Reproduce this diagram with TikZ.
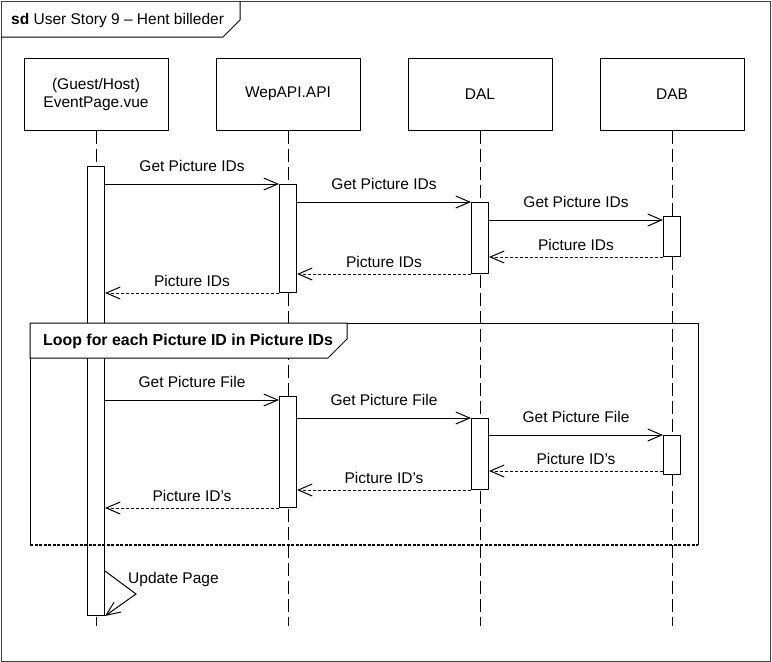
\documentclass[tikz,border=0pt]{standalone}
\usepackage{fontspec}
\setmainfont{Liberation Sans}
\usetikzlibrary{arrows.meta}

\begin{document}
\begin{tikzpicture}[x = 1pt, y = -1pt, font = \fontsize{15.5}{18}\selectfont]
	\tikzstyle{headStyle} = [draw, line width = 1pt, minimum width = 144, minimum height = 72, inner sep = 0pt, align = center]
	\tikzstyle{actStyle} = [draw, line width = 1pt, fill = white, minimum width = 17, inner sep = 0pt, anchor = north]
	\tikzstyle{lifeStyle} = [line width = 1pt, dash pattern = on 13pt off 5pt]
	\tikzstyle{msgStyle} = [line width = 1pt, -{Straight Barb[length = 14pt, width = 12pt, line width = 1pt]}]
	\tikzstyle{retStyle} = [msgStyle, dash pattern = on 3pt off 2pt]
	\tikzstyle{callLabel} = [midway, anchor = base, yshift = 13pt, inner sep = 0pt]
	\tikzstyle{retLabel} = [midway, anchor = base, yshift = 7pt, inner sep = 0pt]
	\useasboundingbox (0, 0) rectangle (772, 662);
	\draw[line width = 1pt, black!75] (1, 1) rectangle (770, 661);
	\draw[line width = 1pt] (1, 37) -- (223, 37) -- (240, 20) -- (240, 1);
	\node[anchor = base west, inner sep = 0pt] (title) at (11, 24) {\textbf{sd} User Story 9 – Hent billeder};
	\node[headStyle] (page) at (96, 94) {(Guest/Host)\\EventPage.vue};
	\node[headStyle] (api) at (288, 94) {WepAPI.API};
	\node[headStyle] (dal) at (480, 94) {DAL};
	\node[headStyle] (dab) at (672, 94) {DAB};
	\coordinate (pageEnd) at (96, 626);
	\coordinate (apiEnd) at (288, 626);
	\coordinate (dalEnd) at (480, 626);
	\coordinate (dabEnd) at (672, 626);
	\draw[lifeStyle] (page.south) -- (pageEnd);
	\draw[lifeStyle] (api.south) -- (apiEnd);
	\draw[lifeStyle] (dal.south) -- (dalEnd);
	\draw[lifeStyle] (dab.south) -- (dabEnd);
	\node[actStyle, minimum height = 449] (page1) at (96, 166) {};
	\node[actStyle, minimum height = 108] (api1) at (288, 184) {};
	\node[actStyle, minimum height = 71] (dal1) at (480, 202) {};
	\node[actStyle, minimum height = 40] (dab1) at (672, 216) {};
	\node[actStyle, minimum height = 111] (api2) at (288, 396) {};
	\node[actStyle, minimum height = 71] (dal2) at (480, 418) {};
	\node[actStyle, minimum height = 39] (dab2) at (672, 435) {};
	\draw[line width = 1pt] (30, 545) -- (30, 323) -- (698, 323) -- (698, 545);
	\draw[line width = 1pt, fill = white] (30, 323) -- (30, 358) -- (328, 358) -- (347, 339) -- (347, 323) -- cycle;
	\draw[line width = 1.8pt, dash pattern = on 3pt off 1.5pt] (30, 545) -- (698, 545);
	\node[anchor = base west, inner sep = 0pt, font = \fontsize{15.9}{18}\selectfont\bfseries] (loop) at (43, 345) {Loop for each Picture ID in Picture IDs};
	\draw[msgStyle] (page1.east |- api1.north) -- (api1.north west) node[callLabel] {Get Picture IDs};
	\draw[msgStyle] (api1.east |- dal1.north) -- (dal1.north west) node[callLabel] {Get Picture IDs};
	\draw[msgStyle] (dal1.east |- 0, 220) -- (dab1.west |- 0, 220) node[callLabel] {Get Picture IDs};
	\draw[retStyle] (dab1.south west) -- (dal1.east |- dab1.south west) node[retLabel] {Picture IDs};
	\draw[retStyle] (dal1.south west) -- (api1.east |- dal1.south west) node[retLabel] {Picture IDs};
	\draw[retStyle] (api1.south west) -- (page1.east |- api1.south west) node[retLabel] {Picture IDs};
	\draw[msgStyle] (page1.east |- 0, 400) -- (api2.west |- 0, 400) node[callLabel] {Get Picture File};
	\draw[msgStyle] (api2.east |- dal2.north) -- (dal2.north west) node[callLabel] {Get Picture File};
	\draw[msgStyle] (dal2.east |- dab2.north) -- (dab2.north west) node[callLabel] {Get Picture File};
	\draw[retStyle] (dab2.west |- 0, 471) -- (dal2.east |- 0, 471) node[retLabel] {Picture ID’s};
	\draw[retStyle] (dal2.south west) -- (api2.east |- dal2.south west) node[retLabel] {Picture ID’s};
	\draw[retStyle] (api2.south west) -- (page1.east |- api2.south west) node[retLabel] {Picture ID’s};
	\coordinate (updTurn) at (136, 594);
	\draw[msgStyle] (page1.east |- 0, 571) -- (updTurn) -- (page1.south east);
	\node[anchor = base west, inner sep = 0pt] (update) at (128, 583) {Update Page};
\end{tikzpicture}
\end{document}
